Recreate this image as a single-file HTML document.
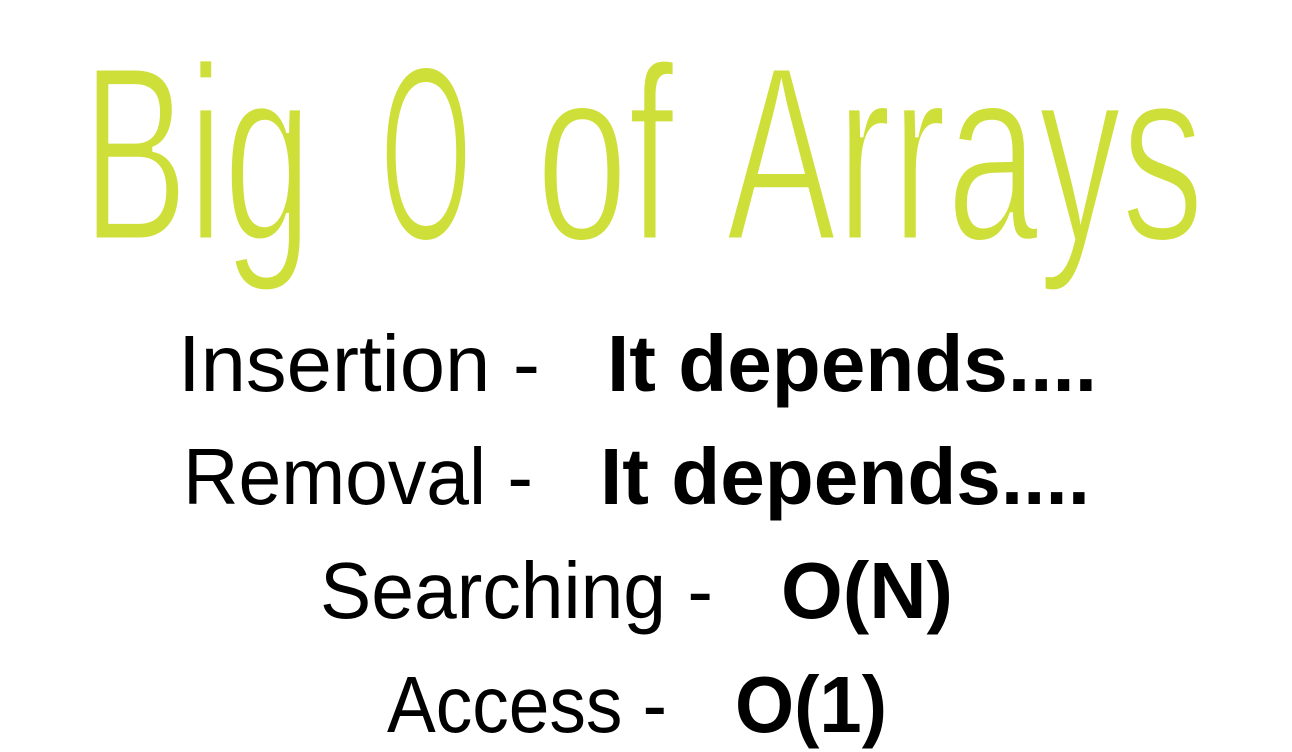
<!DOCTYPE html>
<html><head><meta charset="utf-8"><style>
html,body{margin:0;padding:0;background:#fff;width:1292px;height:752px;overflow:hidden}
svg{display:block}
</style></head><body>
<svg width="1292" height="752" viewBox="0 0 1292 752" xmlns="http://www.w3.org/2000/svg">
<g font-family="Liberation Sans, sans-serif" font-size="250" fill="#cfdf3a" stroke="#fff" stroke-width="5" lengthAdjust="spacingAndGlyphs">
<text x="82" y="240" textLength="230" lengthAdjust="spacingAndGlyphs">Big</text>
<text x="380" y="240" textLength="92" lengthAdjust="spacingAndGlyphs">O</text>
<text x="536" y="240" textLength="138" lengthAdjust="spacingAndGlyphs">of</text>
<text x="726" y="240" textLength="478" lengthAdjust="spacingAndGlyphs">Arrays</text>
</g>
<g font-family="Liberation Sans, sans-serif" font-size="80" fill="#000">
<text x="178" y="391" textLength="362" lengthAdjust="spacingAndGlyphs">Insertion -</text>
<text x="607" y="391" font-weight="bold" textLength="490" lengthAdjust="spacingAndGlyphs">It depends....</text>
<text x="183" y="504" textLength="350" lengthAdjust="spacingAndGlyphs">Removal -</text>
<text x="600" y="504" font-weight="bold" textLength="490" lengthAdjust="spacingAndGlyphs">It depends....</text>
<text x="320" y="618" textLength="393" lengthAdjust="spacingAndGlyphs">Searching -</text>
<text x="781" y="618" font-weight="bold" textLength="172" lengthAdjust="spacingAndGlyphs">O(N)</text>
<text x="387" y="732" textLength="280" lengthAdjust="spacingAndGlyphs">Access -</text>
<text x="735" y="732" font-weight="bold" textLength="152" lengthAdjust="spacingAndGlyphs">O(1)</text>
</g>
</svg>
</body></html>
